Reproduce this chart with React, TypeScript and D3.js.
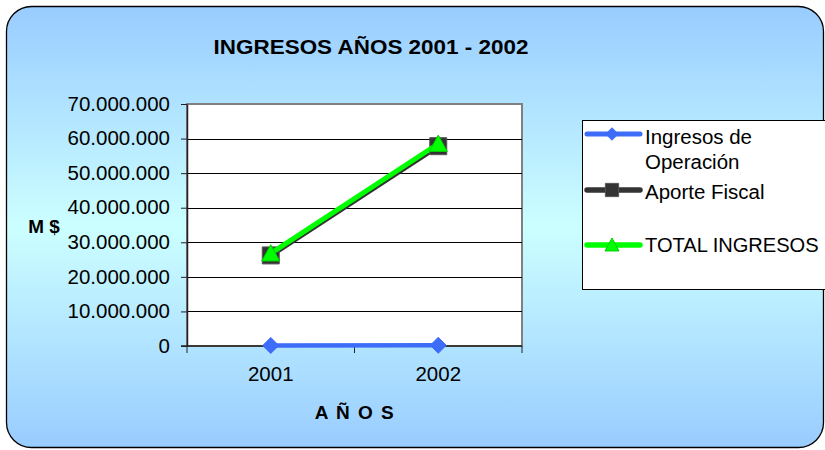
import React, { useEffect, useRef } from 'react';
import * as d3 from 'd3';

// Line chart: ingresos 2001 - 2002 (Excel style)
const years = ['2001', '2002'];
const ingresosOperacion = [150000, 200000];
const aporteFiscal = [26200000, 57800000];
const totalIngresos = [26800000, 58500000];
const yTickValues = [0, 10000000, 20000000, 30000000, 40000000, 50000000, 60000000, 70000000];
const seriesNames = ['Ingresos de Operación', 'Aporte Fiscal', 'TOTAL INGRESOS'];

const W = 825;
const H = 450;
const FONT = '"Liberation Sans", Arial, sans-serif';
const SX = 1.05; // text in the original looks a bit stretched sideways

const locale = d3.formatLocale({ decimal: ',', thousands: '.', grouping: [3], currency: ['$', ''] });
const fmt = locale.format(',d');

function markerPath(kind: string, size: number) {
  const h = size / 2;
  if (kind === 'diamond') return `M0,${-h}L${h},0L0,${h}L${-h},0Z`;
  if (kind === 'square') return `M${-h},${-h}H${h}V${h}H${-h}Z`;
  const th = size * 0.85;
  return `M0,${-th / 2 - 1}L${h},${th / 2}L${-h},${th / 2}Z`;
}

export default function App() {
  const svgRef = useRef<SVGSVGElement>(null);

  useEffect(() => {
    if (!svgRef.current) return;
    const svg = d3.select(svgRef.current);
    svg.selectAll('*').remove();

    const series = [
      { name: seriesNames[0], values: ingresosOperacion, color: '#3d6cf8', stroke: '#3d6cf8', marker: 'diamond', width: 4.5, size: 16 },
      { name: seriesNames[1], values: aporteFiscal, color: '#333333', stroke: '#555555', marker: 'square', width: 5, size: 17 },
      { name: seriesNames[2], values: totalIngresos, color: '#00ff00', stroke: '#00cc00', marker: 'triangle', width: 5, size: 18 },
    ];

    const addText = (g: any, tx: number, ty: number, str: string, size: number, opts: any = {}) =>
      g.append('text')
        .attr('transform', `translate(${tx},${ty}) scale(${opts.sx || SX},1)`)
        .attr('text-anchor', opts.anchor || 'start')
        .attr('font-family', FONT)
        .attr('font-weight', opts.bold ? 'bold' : 'normal')
        .attr('font-size', size)
        .attr('letter-spacing', opts.ls || 0)
        .attr('fill', '#000')
        .text(str);

    // background
    const defs = svg.append('defs');
    const grad = defs.append('linearGradient').attr('id', 'bg').attr('x1', 0).attr('y1', 0).attr('x2', 0).attr('y2', 1);
    grad.append('stop').attr('offset', '0%').attr('stop-color', '#99ccff');
    grad.append('stop').attr('offset', '50%').attr('stop-color', '#ccffff');
    grad.append('stop').attr('offset', '100%').attr('stop-color', '#99ccff');

    svg.append('rect')
      .attr('x', 6.5).attr('y', 6.5).attr('width', 817).attr('height', 441)
      .attr('rx', 25).attr('ry', 25)
      .attr('fill', 'url(#bg)').attr('stroke', '#000').attr('stroke-width', 1.3);

    const left = 187, right = 522, top = 104, bottom = 346;

    const x = d3.scaleBand().domain(years).range([left, right]);
    const y = d3.scaleLinear().domain([0, 70000000]).range([bottom, top]);

    // plot area
    svg.append('rect')
      .attr('x', left).attr('y', top).attr('width', right - left).attr('height', bottom - top)
      .attr('fill', '#fff').attr('stroke', '#808080').attr('stroke-width', 2);

    // grid
    svg.append('g').selectAll('line')
      .data(yTickValues.filter((v) => v > 0 && v < 70000000))
      .join('line')
      .attr('x1', left).attr('x2', right)
      .attr('y1', (d) => Math.round(y(d)) + 0.5).attr('y2', (d) => Math.round(y(d)) + 0.5)
      .attr('stroke', '#000').attr('stroke-width', 1);

    // y axis
    const yAxis = svg.append('g')
      .attr('transform', `translate(${left},0)`)
      .call(d3.axisLeft(y).tickValues(yTickValues).tickSize(6).tickSizeOuter(0).tickPadding(11).tickFormat((d) => fmt(d as number)));
    yAxis.select('.domain').attr('stroke', '#222').attr('stroke-width', 1.5);
    yAxis.selectAll('.tick line').attr('stroke', '#222');
    yAxis.selectAll('text')
      .attr('font-family', FONT).attr('font-size', 19.5).attr('fill', '#000')
      .attr('x', -17 / SX).attr('transform', `scale(${SX},1)`);

    // x axis (text sits at x=0 in each tick group, so scaling keeps it centred)
    const xAxis = svg.append('g')
      .attr('transform', `translate(0,${bottom})`)
      .call(d3.axisBottom(x).tickSize(0).tickPadding(21));
    xAxis.select('.domain').attr('stroke', '#222').attr('stroke-width', 1.5).attr('d', `M${left - 6},0H${right}`);
    xAxis.selectAll('text')
      .attr('font-family', FONT).attr('font-size', 19.5).attr('fill', '#000')
      .attr('transform', `scale(${SX},1)`);
    xAxis.append('g').selectAll('line')
      .data([left, (left + right) / 2, right])
      .join('line')
      .attr('x1', (d) => d).attr('x2', (d) => d).attr('y1', 0).attr('y2', 7)
      .attr('stroke', '#222').attr('stroke-width', 1);

    const cx = (i: number) => (x(years[i]) as number) + x.bandwidth() / 2;

    // lines and markers
    series.forEach((s) => {
      const line = d3.line<number>().x((_, i) => cx(i)).y((d) => y(d));
      svg.append('path')
        .datum(s.values)
        .attr('d', line)
        .attr('fill', 'none')
        .attr('stroke', s.color)
        .attr('stroke-width', s.width);
      svg.append('g').selectAll('path')
        .data(s.values)
        .join('path')
        .attr('transform', (d, i) => `translate(${cx(i)},${y(d)})`)
        .attr('d', markerPath(s.marker, s.size))
        .attr('fill', s.color)
        .attr('stroke', s.stroke)
        .attr('stroke-width', 1);
    });

    // title and axis titles
    addText(svg, 371, 54, 'INGRESOS AÑOS 2001 - 2002', 21, { anchor: 'middle', bold: true, sx: 1.07 });
    addText(svg, 44, 233, 'M $', 18, { anchor: 'middle', bold: true });
    addText(svg, 355, 419, 'A Ñ O S', 19, { anchor: 'middle', bold: true, sx: 1, ls: 1.5 });

    // legend
    const lg = svg.append('g');
    lg.append('rect')
      .attr('x', 582.5).attr('y', 120.5).attr('width', 260).attr('height', 169)
      .attr('fill', '#fff').attr('stroke', '#000').attr('stroke-width', 1);
    const legendY = [134, 190, 245];
    series.forEach((s, i) => {
      const ly = legendY[i];
      lg.append('line')
        .attr('x1', 587).attr('x2', 640).attr('y1', ly).attr('y2', ly)
        .attr('stroke', s.color).attr('stroke-width', s.width + 0.5).attr('stroke-linecap', 'round');
      lg.append('path')
        .attr('transform', `translate(612,${ly})`)
        .attr('d', markerPath(s.marker, s.size * 0.78))
        .attr('fill', s.color).attr('stroke', s.stroke).attr('stroke-width', 1);
    });
    addText(lg, 645, 144, 'Ingresos de', 19.5);
    addText(lg, 645, 169, 'Operación', 19.5);
    addText(lg, 645, 199, seriesNames[1], 19.5);
    addText(lg, 645, 252, seriesNames[2], 19.5, { sx: 1.03 });
  }, []);

  return (
    <svg
      ref={svgRef}
      width={W}
      height={H}
      style={{ position: 'absolute', left: 0, top: 0, display: 'block', background: '#fff' }}
    />
  );
}
